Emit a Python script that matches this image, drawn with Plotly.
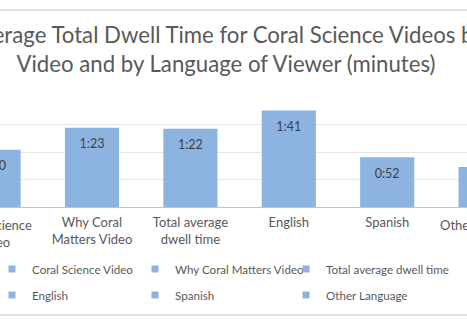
import plotly.graph_objects as go

# ---------------- data ----------------
categories = ["Coral Science Video", "Why Coral Matters Video", "Total average dwell time",
              "English", "Spanish", "Other Language"]
tick_labels = ["Coral Science<br>Video", "Why Coral<br>Matters Video", "Total average<br>dwell time",
               "English", "Spanish", "Other Language"]
dwell_seconds = [60, 83, 82, 101, 52, 42]
legend_row1 = ["Coral Science Video", "Why Coral Matters Video", "Total average dwell time"]
legend_row2 = ["English", "Spanish", "Other Language"]

# ---------------- style ----------------
W, H = 467, 336
PLOT_TOP, PLOT_BOTTOM = 97, 207
BAR = "#8DB4E0"
TXT = "#595959"
FONT = "Lato"
X_RANGE = [0.065, 4.811]
Y_MAX, Y_STEP = 115.2, 28.8
LEG_WIDTHS = [98, 106, 123]   # per-column legend entry widths (px)


def py(px):
    """pixel row -> paper y"""
    return (PLOT_BOTTOM - px) / (PLOT_BOTTOM - PLOT_TOP)


def px_x(i):
    """category index -> paper x"""
    return (i - X_RANGE[0]) / (X_RANGE[1] - X_RANGE[0])


def mmss(s):
    return f"{s // 60}:{s % 60:02d}"


idx = list(range(len(categories)))
fig = go.Figure()
fig.add_trace(go.Bar(x=idx, y=dwell_seconds, marker_color=BAR, marker_line_width=0,
                     width=0.55, showlegend=False, hoverinfo="skip"))
fig.add_trace(go.Scatter(x=idx, y=dwell_seconds, mode="markers+text",
                         text=[mmss(v) for v in dwell_seconds], textposition="bottom center",
                         marker=dict(size=16, opacity=0),
                         textfont=dict(family=FONT, size=12.5, color="#404040"),
                         showlegend=False, hoverinfo="skip"))

for row, leg in ((legend_row1, "legend"), (legend_row2, "legend2")):
    for k, name in enumerate(row):
        fig.add_trace(go.Scatter(x=[None], y=[None], mode="markers", name=name, legend=leg,
                                 legendwidth=LEG_WIDTHS[k],
                                 marker=dict(symbol="square", size=7, color=BAR)))

# tick labels for categories whose centre is outside the visible range
annots = []
for i, lab in zip(idx, tick_labels):
    if i < X_RANGE[0] or i > X_RANGE[1]:
        annots.append(dict(x=px_x(i), xref="paper", y=py(PLOT_BOTTOM + 8), yref="paper",
                           yanchor="top", xanchor="center", text=lab, showarrow=False,
                           font=dict(family=FONT, size=13, color=TXT)))

leg_common = dict(orientation="h", xanchor="left", yanchor="middle",
                  font=dict(family=FONT, size=11.6, color=TXT), bgcolor="rgba(0,0,0,0)",
                  itemclick=False, itemdoubleclick=False)

fig.update_layout(
    width=W, height=H,
    margin=dict(l=0, r=0, t=PLOT_TOP, b=H - PLOT_BOTTOM, pad=0, autoexpand=False),
    paper_bgcolor="white", plot_bgcolor="white",
    font=dict(family=FONT, color=TXT),
    title=dict(text="Average Total Dwell Time for Coral Science Videos by<br>Video and by Language of Viewer (minutes)",
               x=226 / W, xanchor="center", xref="paper", y=1 - 43 / H, yanchor="top",
               font=dict(family=FONT, size=22.2, color=TXT)),
    xaxis=dict(range=X_RANGE, tickmode="array", tickvals=idx, ticktext=tick_labels,
               showgrid=False, showline=True, linecolor="#C4C4C4", linewidth=1.4,
               ticks="", ticklabelstandoff=3, tickfont=dict(family=FONT, size=13, color=TXT),
               zeroline=False, automargin=False),
    yaxis=dict(range=[0, Y_MAX], dtick=Y_STEP, showticklabels=False, gridcolor="#E6E6E6",
               gridwidth=1, zeroline=False, showline=False, automargin=False),
    legend=dict(x=-8 / W, y=py(269), **leg_common),
    legend2=dict(x=-8 / W, y=py(295), **leg_common),
    annotations=annots,
    shapes=[dict(type="line", xref="paper", yref="paper", x0=-0.1, x1=1.1, y0=py(10), y1=py(10),
                 line=dict(color="#D9D9D9", width=1.3)),
            dict(type="line", xref="paper", yref="paper", x0=-0.1, x1=1.1, y0=py(315), y1=py(315),
                 line=dict(color="#D9D9D9", width=1.3))],
    showlegend=True,
)

fig.write_html("out.html")
